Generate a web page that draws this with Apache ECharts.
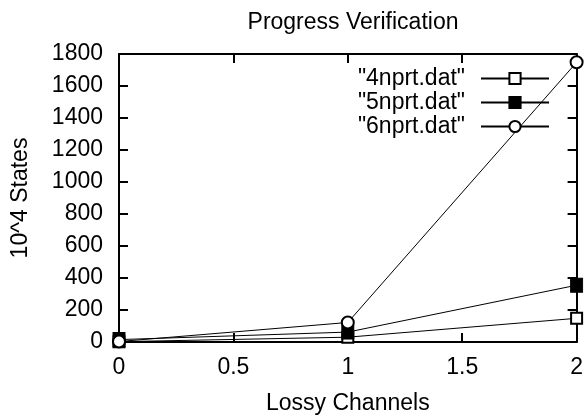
<!DOCTYPE html>
<html>
<head>
<meta charset="utf-8">
<script src="https://cdn.jsdelivr.net/npm/echarts@6/dist/echarts.min.js"></script>
<style>
  html, body { margin: 0; padding: 0; background: #fff; }
  #chart { width: 586px; height: 420px; }
</style>
</head>
<body>
<div id="chart"></div>
<script>
// lossy channels on x, 10^4 states on y
const xValues = [0, 1, 2]
const states4 = [2, 30, 148]
const states5 = [15, 62, 355]
const states6 = [3, 122, 1748]
const seriesNames = ['"4nprt.dat"', '"5nprt.dat"', '"6nprt.dat"']

const font = 'Liberation Sans, Arial, Helvetica, sans-serif'
const fontSize = 23
const black = '#000'

function pairs(ys) {
  return xValues.map((x, i) => [x, ys[i]])
}

function frameAxis(extra) {
  return Object.assign({
    type: 'value',
    axisLine: { show: true, onZero: false, lineStyle: { color: black, width: 2 } },
    axisTick: { show: true, inside: true, length: 9, lineStyle: { color: black, width: 2 } },
    splitLine: { show: false },
    axisLabel: { show: false }
  }, extra)
}

const chart = echarts.init(document.getElementById('chart'))

chart.setOption({
  animation: false,
  backgroundColor: '#fff',
  title: {
    text: 'Progress Verification',
    left: 348,
    top: 6,
    textAlign: 'center',
    textStyle: { fontFamily: font, fontSize: fontSize, fontWeight: 'normal', color: black }
  },
  legend: {
    orient: 'vertical',
    right: 31,
    top: 62,
    align: 'right',
    itemWidth: 68,
    itemHeight: 14,
    itemGap: 1,
    textStyle: { fontFamily: font, fontSize: fontSize, color: black, lineHeight: 22, padding: [0, 11, 0, 0] },
    data: seriesNames
  },
  grid: { left: 119, right: 8, top: 54, bottom: 76 },
  xAxis: [
    frameAxis({
      position: 'bottom',
      min: 0, max: 2, interval: 0.5,
      name: 'Lossy Channels',
      nameLocation: 'middle',
      nameGap: 50,
      nameTextStyle: { fontFamily: font, fontSize: fontSize, color: black },
      axisLabel: { show: true, margin: 14, fontFamily: font, fontSize: fontSize, color: black }
    }),
    frameAxis({ position: 'top', min: 0, max: 2, interval: 0.5 })
  ],
  yAxis: [
    frameAxis({
      position: 'left',
      min: 0, max: 1800, interval: 200,
      name: '10^4 States',
      nameLocation: 'middle',
      nameGap: 87,
      nameTextStyle: { fontFamily: font, fontSize: fontSize, color: black },
      axisLabel: { show: true, margin: 16, fontFamily: font, fontSize: fontSize, color: black, formatter: v => String(v) }
    }),
    frameAxis({ position: 'right', min: 0, max: 1800, interval: 200 })
  ],
  series: [
    {
      name: seriesNames[0],
      type: 'line',
      data: pairs(states4),
      symbol: 'emptyRect',
      symbolSize: 11,
      lineStyle: { color: black, width: 1 },
      itemStyle: { color: black, borderColor: black, borderWidth: 1 }
    },
    {
      name: seriesNames[1],
      type: 'line',
      data: pairs(states5),
      symbol: 'rect',
      symbolSize: [12, 14],
      lineStyle: { color: black, width: 1 },
      itemStyle: { color: black, borderColor: black, borderWidth: 1 }
    },
    {
      name: seriesNames[2],
      type: 'line',
      data: pairs(states6),
      symbol: 'emptyCircle',
      symbolSize: 12,
      lineStyle: { color: black, width: 1 },
      itemStyle: { color: black, borderColor: black, borderWidth: 1 }
    }
  ]
})
</script>
</body>
</html>
